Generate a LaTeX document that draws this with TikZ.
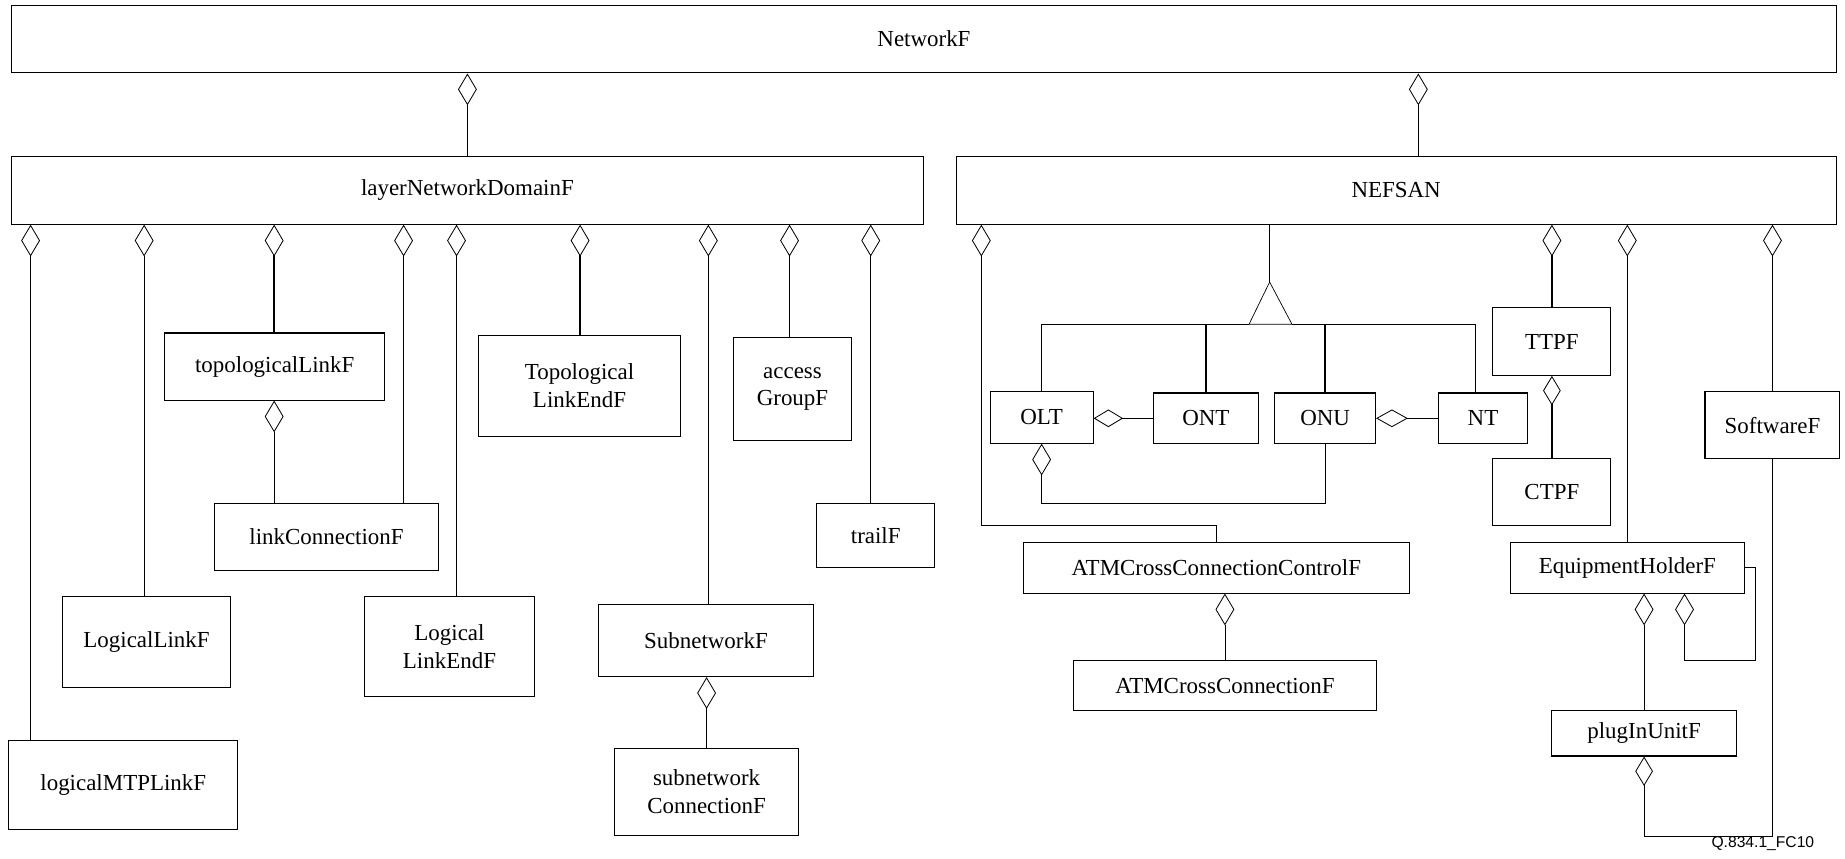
\documentclass[tikz,border=0pt]{standalone}
\usepackage{fontspec}
\setmainfont{Liberation Serif}
\newfontfamily\labelfont{Liberation Sans}
\usetikzlibrary{arrows.meta}

\begin{document}
\begin{tikzpicture}[x=1pt,y=-1pt,
  cls/.style={draw, line width=0.9pt, inner sep=0pt, align=center,
              font=\fontsize{19.5}{23.5}\selectfont},
  thinline/.style={line width=0.6pt},
  thickline/.style={line width=1.2pt},
  agg/.style={-{Diamond[open,length=27pt,width=16pt,line width=0.7pt]}},
  aggs/.style={-{Diamond[open,length=25pt,width=15pt,line width=0.7pt]}},
  aggh/.style={-{Diamond[open,length=25pt,width=15pt,line width=0.7pt]}},
  aggw/.style={-{Diamond[open,length=27pt,width=15pt,line width=0.7pt]}},
]
\useasboundingbox (0,0) rectangle (1568,730);

% ---------- classes ----------
\node[cls, minimum width=1550.5, minimum height=57.5] (net)    at (785.25,33.25)  {NetworkF};
\node[cls, minimum width=775.5,  minimum height=57.5] (lnd)    at (397.25,161.75) {layerNetworkDomainF};
\node[cls, minimum width=748,    minimum height=57.5] (nefsan) at (1186.5,161.75) {NEFSAN};

\node[cls, minimum width=194.5, minimum height=76] (mtp)  at (104.75,667)  {logicalMTPLinkF};
\node[cls, minimum width=143,   minimum height=77] (llf)  at (124.5,545.5) {LogicalLinkF};
\node[cls, minimum width=187,   minimum height=57] (tlf)  at (233.5,311.5) {topologicalLinkF};
\node[cls, minimum width=191,   minimum height=57] (lcf)  at (277.5,456.5) {linkConnectionF};
\node[cls, minimum width=144,   minimum height=85] (llef) at (382,549.5)   {Logical\\LinkEndF};
\node[cls, minimum width=171,   minimum height=86] (tlef) at (492.5,328)   {Topological\\LinkEndF};
\node[cls, minimum width=182,   minimum height=61] (snf)  at (600,544.5)   {SubnetworkF};
\node[cls, minimum width=157,   minimum height=74] (sncf) at (600.5,673)   {subnetwork\\ConnectionF};
\node[cls, minimum width=101,   minimum height=87] (agf)  at (673.5,330.5) {access\\GroupF};
\node[cls, minimum width=100.5, minimum height=54] (trail) at (744.25,455) {trailF};

\node[cls, minimum width=87.5, minimum height=43.6] (olt) at (885.25,354.8) {OLT};
\node[cls, minimum width=89.6, minimum height=43]   (ont) at (1024.8,355.5) {ONT};
\node[cls, minimum width=85.6, minimum height=43]   (onu) at (1126.2,355.5) {ONU};
\node[cls, minimum width=75.3, minimum height=43]   (nt)  at (1260.35,355.5) {NT};

\node[cls, minimum width=100.2, minimum height=57.5] (ttpf) at (1318.9,290.25) {TTPF};
\node[cls, minimum width=100.2, minimum height=57]   (ctpf) at (1318.9,418.5)  {CTPF};
\node[cls, minimum width=114.7, minimum height=57]   (sw)   at (1506.35,361.5) {SoftwareF};

\node[cls, minimum width=327.5, minimum height=43]   (atmc) at (1033.75,482.5) {ATMCrossConnectionControlF};
\node[cls, minimum width=257,   minimum height=42.5] (atm)  at (1041,582.75)   {ATMCrossConnectionF};
\node[cls, minimum width=199,   minimum height=43]   (eh)   at (1383,482.5)    {EquipmentHolderF};
\node[cls, minimum width=157,   minimum height=38.5] (piu)  at (1397.25,623.25) {plugInUnitF};

\node[anchor=base east, inner sep=0pt, font=\labelfont\fontsize{13.3}{15}\selectfont]
  (figid) at (1542,720) {Q.834.1\_FC10};

% ---------- attachment columns ----------
\coordinate (xn)  at (1205.4,0);
\coordinate (x1)  at (26,0);
\coordinate (x2)  at (122.5,0);
\coordinate (x3)  at (233,0);
\coordinate (x4)  at (343,0);
\coordinate (x5)  at (388,0);
\coordinate (x6)  at (493,0);
\coordinate (x7)  at (602,0);
\coordinate (x8)  at (671,0);
\coordinate (x9)  at (740,0);

% ---------- aggregations of NetworkF ----------
\draw[thinline,agg] (lnd.north) -- (lnd.north |- net.south);
\draw[thinline,agg] (nefsan.north -| xn) -- (net.south -| xn);

% ---------- aggregations of layerNetworkDomainF ----------
\draw[thinline,agg]  (mtp.north -| x1)  -- (lnd.south -| x1);
\draw[thinline,agg]  (llf.north -| x2)  -- (lnd.south -| x2);
\draw[thickline,agg] (tlf.north -| x3)  -- (lnd.south -| x3);
\draw[thinline,agg]  (lcf.north -| x4)  -- (lnd.south -| x4);
\draw[thinline,agg]  (llef.north -| x5) -- (lnd.south -| x5);
\draw[thickline,agg] (tlef.north -| x6) -- (lnd.south -| x6);
\draw[thinline,agg]  (snf.north -| x7)  -- (lnd.south -| x7);
\draw[thickline,agg] (agf.north -| x8)  -- (lnd.south -| x8);
\draw[thickline,agg] (trail.north -| x9) -- (lnd.south -| x9);

\draw[thinline,agg]  (lcf.north -| x3) -- (tlf.south -| x3);
\draw[thickline,agg] (sncf.north) -- (sncf.north |- snf.south);

% ---------- aggregations of NEFSAN ----------
\coordinate (bendA) at (834,446.3);
\draw[thinline,agg] (atmc.north) |- (bendA) -- (bendA |- nefsan.south);
\draw[thickline,agg] (ttpf.north) -- (ttpf.north |- nefsan.south);
\draw[thinline,agg]  (eh.north) -- (eh.north |- nefsan.south);
\draw[thinline,agg]  (sw.north) -- (sw.north |- nefsan.south);

% ---------- generalization into OLT, ONT, ONU, NT ----------
\coordinate (apex) at (1079,239.7);
\coordinate (gl) at (884.7,275.6);
\coordinate (gr) at (1254,275.6);
\draw[thinline] (apex) -- (apex |- nefsan.south);
\draw[thinline] (apex) -- (1061.5,275.6) -- (1098,275.6) -- cycle;
\draw[thickline] (olt.north) -- (olt.north |- gl) -- (1061.5,275.6);
\draw[thickline] (1098,275.6) -- (gr) -- (gr |- nt.north);
\draw[thickline] (ont.north) -- (ont.north |- gl);
\draw[thickline] (onu.north) -- (onu.north |- gl);

% ---------- access network containment ----------
\draw[thickline,aggh] (ont.west) -- (ont.west -| olt.east);
\draw[thinline,aggw] (nt.west) -- (nt.west -| onu.east);
\coordinate (bendB) at (0,427.6);
\draw[thinline,agg] (onu.south) -- (onu.south |- bendB) -| (olt.south);

% ---------- termination points ----------
\draw[thickline,aggs] (ctpf.north) -- (ctpf.north |- ttpf.south);

% ---------- cross connections ----------
\draw[thinline,agg] (atm.north) -- (atm.north |- atmc.south);

% ---------- equipment ----------
\coordinate (loopC) at (1492,561);
\coordinate (loopX) at (1431.6,0);
\draw[thinline,agg] (piu.north) -- (piu.north |- eh.south);
\draw[thinline,agg] (eh.east) -| (loopC) -| (eh.south -| loopX);
\coordinate (bendD) at (0,710.5);
\draw[thinline,aggs] (sw.south) -- (sw.south |- bendD) -| (piu.south);
\end{tikzpicture}
\end{document}
